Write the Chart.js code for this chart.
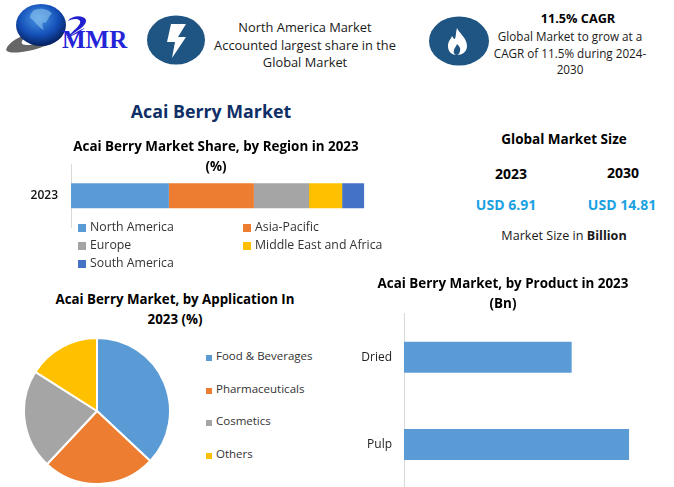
<!DOCTYPE html>
<html>
<head>
<meta charset="utf-8">
<title>Acai Berry Market</title>
<script src="https://cdn.jsdelivr.net/npm/chart.js@4"></script>
<style>
  html, body { margin: 0; padding: 0; background: #fff; }
  body { position: relative; width: 674px; height: 487px; overflow: hidden; font-family: "Open Sans", sans-serif; color: #1a1a1a; }
  .t { position: absolute; transform: translate(-50%, -50%); white-space: nowrap; text-align: center; }
  .b { font-weight: 700; color: #000; }
  .info { font-size: 12.85px; line-height: 17.5px; }
  .usd { font-size: 14px; font-weight: 700; color: #1ba1e2; }
  canvas { position: absolute; }
  svg { position: absolute; left: 0; top: 0; }
  .leg { position: absolute; white-space: nowrap; line-height: 18px; color: #333; }
  .leg i { display: inline-block; vertical-align: -1px; margin-right: 4px; }
</style>
</head>
<body>
<svg width="674" height="90" viewBox="0 0 674 90">
  <defs>
    <radialGradient id="globe" cx="45%" cy="35%" r="65%">
      <stop offset="0" stop-color="#4a96e6"/>
      <stop offset="0.6" stop-color="#1450b8"/>
      <stop offset="1" stop-color="#06205e"/>
    </radialGradient>
  </defs>
  <path d="M6 50 C8 42 20 36 30 34 C20 40 18 46 30 45 C42 44 54 40 62 34 C54 44 38 50 22 52 C14 53 8 53 6 50 Z" fill="#666"/>
  <ellipse cx="41" cy="25" rx="25" ry="21" fill="url(#globe)"/>
  <path d="M34 10 C42 7 50 10 52 14 C48 16 49 20 45 23 C41 21 42 26 44 30 C38 27 34 20 30 18 C30 14 32 12 34 10 Z" fill="#8ec6ee" opacity="0.6"/>
  <path d="M68 21 C72 15 84 15 86 20 C87 26 76 31 70 36 C75 33 81 29 85 28 C80 32 74 35 67 38 C72 31 82 25 80 21 C78 18 72 19 68 21 Z" fill="#2020d0"/>
  <text x="62" y="48" font-family="Liberation Serif" font-weight="700" font-size="25" fill="#2424d8">MMR</text>
  <ellipse cx="176" cy="40" rx="29" ry="24.5" fill="#1f5582"/>
  <path d="M171 24 L186 24 L178 37 L186 37 L172 58 L175 42 L167 42 Z" fill="#fff"/>
  <ellipse cx="459" cy="41" rx="30" ry="24.5" fill="#1f5582"/>
  <path d="M457 28 C459 33 467 38 467 46 C467 52 462 55 457 55 C452 55 448 52 448 46 C448 41 451 39 452 36 C453 38 454 39 455 39 C456 36 456 31 457 28 Z" fill="#fff"/>
  <path d="M457 44 C459 46 461 48 460 51 C460 53 458 55 457 55 C455 55 453 53 454 50 C454 48 456 47 457 44 Z" fill="#1f5582"/>
</svg>

<div class="t info" style="left:305px;top:45px;">North America Market<br>Accounted largest share in the<br>Global Market</div>
<div class="t b" style="left:578px;top:18px;font-size:12.7px;">11.5% CAGR</div>
<div class="t info" style="left:570px;top:53px;font-size:11.7px;line-height:16.5px;">Global Market to grow at a<br>CAGR of 11.5% during 2024-<br>2030</div>
<div class="t" style="left:211px;top:111px;font-size:17.8px;font-weight:700;color:#0f2f66;">Acai Berry Market</div>

<div class="t b" style="left:564px;top:139px;font-size:13.5px;">Global Market Size</div>
<div class="t b" style="left:511px;top:173px;font-size:14px;">2023</div>
<div class="t b" style="left:623px;top:172px;font-size:14px;">2030</div>
<div class="t usd" style="left:506px;top:204px;">USD 6.91</div>
<div class="t usd" style="left:622px;top:204px;">USD 14.81</div>
<div class="t" style="left:564px;top:235px;font-size:12.6px;">Market Size in <b>Billion</b></div>

<canvas id="regionChart" style="left:16px;top:134px;width:400px;height:100px;"></canvas>
<div class="t b" style="left:175px;top:309px;font-size:13.3px;line-height:20px;">Acai Berry Market, by Application In<br>2023 (%)</div>
<canvas id="applicationChart" style="left:23px;top:337px;width:148px;height:148px;"></canvas>
<canvas id="productChart" style="left:340px;top:271px;width:326px;height:217px;"></canvas>

<div id="regionLegend"></div>
<div id="applicationLegend"></div>

<script>
const regionYear = ["2023"];
const regionNames = ["North America", "Asia-Pacific", "Europe", "Middle East and Africa", "South America"];
const regionValues = [33.4, 29, 18.8, 11.3, 7.5];
const regionColors = ["#5b9bd5", "#ed7d31", "#a5a5a5", "#ffc000", "#4472c4"];

const applicationNames = ["Food & Beverages", "Pharmaceuticals", "Cosmetics", "Others"];
const applicationValues = [37, 25, 22, 16];
const applicationColors = ["#5b9bd5", "#ed7d31", "#a5a5a5", "#ffc000"];

const productNames = ["Dried", "Pulp"];
const productValues = [2.95, 3.96];

const titleFont = { family: "Open Sans", size: 13.4, weight: "700", lineHeight: 1.48 };
const tickFont = { family: "Open Sans", size: 12 };

Chart.defaults.animation = false;
Chart.defaults.responsive = false;
Chart.defaults.maintainAspectRatio = false;
Chart.defaults.color = "#222";

function sizeCanvas(id) {
  const c = document.getElementById(id);
  c.width = parseInt(c.style.width);
  c.height = parseInt(c.style.height);
  return c;
}

// fixed axis width, and drop the room the axis keeps for half a tick label
function fitAxis(width) {
  return (scale) => {
    scale.width = width;
    scale.paddingTop = 0;
    scale.paddingBottom = 0;
  };
}

// Region stacked bar
new Chart(sizeCanvas("regionChart"), {
  type: "bar",
  data: {
    labels: regionYear,
    datasets: regionNames.map((name, i) => ({
      label: name,
      data: [regionValues[i]],
      backgroundColor: regionColors[i],
      barPercentage: 0.4,
      categoryPercentage: 1,
    })),
  },
  options: {
    indexAxis: "y",
    devicePixelRatio: 1,
    layout: { padding: { bottom: 7 } },
    plugins: {
      legend: { display: false },
      tooltip: { enabled: false },
      title: {
        display: true,
        text: ["Acai Berry Market Share, by Region in 2023", "(%)"],
        color: "#000",
        font: titleFont,
        padding: { top: 3, bottom: -12 },
      },
    },
    scales: {
      x: { stacked: true, display: false, min: 0, max: 117.7 },
      y: {
        stacked: true,
        grid: { display: false, drawTicks: false },
        border: { color: "#d9d9d9" },
        ticks: { font: { family: "Open Sans", size: 12, weight: "600" }, color: "#111", padding: 13 },
        afterFit: fitAxis(55),
      },
    },
  },
});

// Application pie
new Chart(sizeCanvas("applicationChart"), {
  type: "pie",
  data: {
    labels: applicationNames,
    datasets: [{
      data: applicationValues,
      backgroundColor: applicationColors,
      borderColor: "#fff",
      borderWidth: 2,
    }],
  },
  options: {
    devicePixelRatio: 1,
    plugins: {
      legend: { display: false },
      tooltip: { enabled: false },
    },
  },
});

// Product bars
new Chart(sizeCanvas("productChart"), {
  type: "bar",
  data: {
    labels: productNames,
    datasets: [{
      data: productValues,
      backgroundColor: "#5b9bd5",
      barPercentage: 0.356,
      categoryPercentage: 1,
    }],
  },
  options: {
    indexAxis: "y",
    devicePixelRatio: 1,
    plugins: {
      legend: { display: false },
      tooltip: { enabled: false },
      title: {
        display: true,
        text: ["Acai Berry Market, by Product in 2023", "(Bn)"],
        color: "#000",
        font: titleFont,
        padding: { top: 3, bottom: 0 },
      },
    },
    scales: {
      x: { display: false, min: 0, max: 4.61 },
      y: {
        grid: { display: false, drawTicks: false },
        border: { color: "#d9d9d9" },
        ticks: { font: tickFont, color: "#222", padding: 12 },
        afterFit: fitAxis(64),
      },
    },
  },
});

// Legends are laid out by hand, the library can't do these columns
function legendItem(parent, name, color, x, y, box, size) {
  const el = document.createElement("div");
  el.className = "leg";
  el.style.left = x + "px";
  el.style.top = y + "px";
  el.style.fontSize = size + "px";
  const mark = document.createElement("i");
  mark.style.width = box + "px";
  mark.style.height = box + "px";
  mark.style.background = color;
  el.appendChild(mark);
  el.appendChild(document.createTextNode(name));
  parent.appendChild(el);
}

const regionLegend = document.getElementById("regionLegend");
regionNames.forEach((name, i) => {
  const col = i % 2, row = Math.floor(i / 2);
  legendItem(regionLegend, name, regionColors[i], col ? 243 : 78, 218 + row * 18, 8, 12.3);
});

const applicationLegend = document.getElementById("applicationLegend");
applicationNames.forEach((name, i) => {
  legendItem(applicationLegend, name, applicationColors[i], 206, 347.2 + i * 32.6, 6, 11.5);
});
</script>
</body>
</html>
